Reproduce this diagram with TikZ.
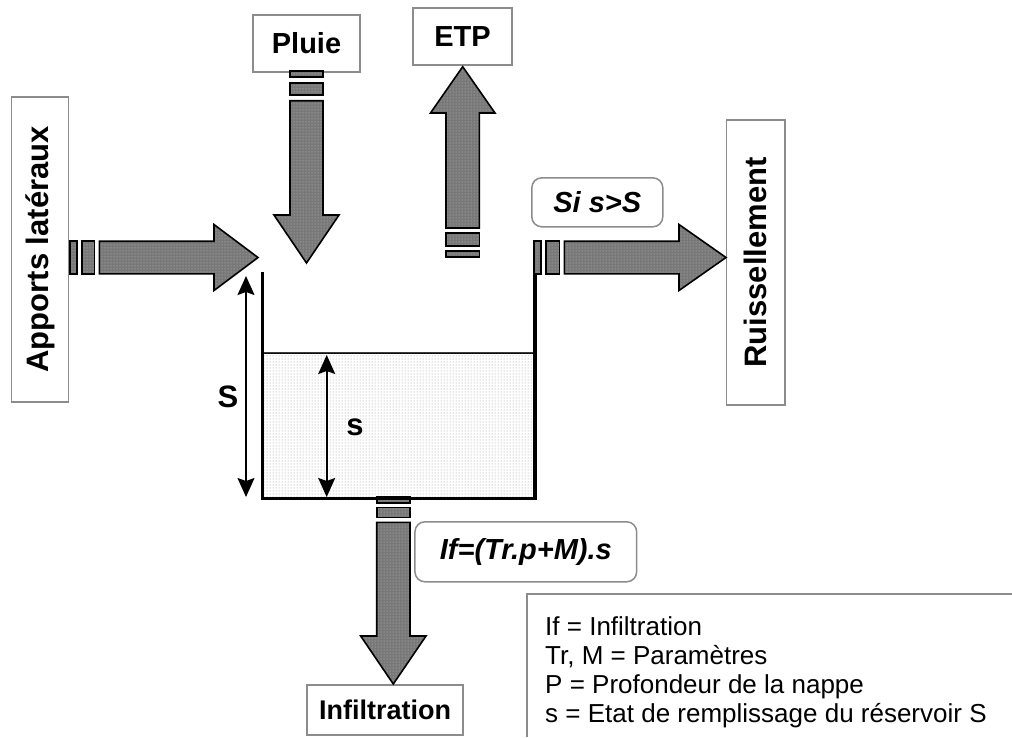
\documentclass[tikz,border=0pt]{standalone}
\usepackage{fontspec}
\setmainfont{Liberation Sans}
\usetikzlibrary{patterns,arrows.meta}
\begin{document}
\begin{tikzpicture}[x=1pt,y=-1pt,
 lbl/.style={font=\fontsize{29}{34}\selectfont\bfseries, inner sep=0pt},
 vlbl/.style={font=\fontsize{31}{36}\selectfont\bfseries, inner sep=0pt, rotate=90},
 ilbl/.style={font=\fontsize{29}{34}\selectfont\bfseries\itshape, inner sep=0pt},
 legtxt/.style={font=\fontsize{26}{29}\selectfont, inner sep=0pt, anchor=base west},
 box/.style={draw={rgb,255:red,140;green,140;blue,140}, line width=1.5pt, fill=white, inner sep=0pt},
 rbox/.style={box, rounded corners=10pt},
 blk/.style={draw=black, line width=1.6pt, line join=miter,
   preaction={fill={rgb,255:red,120;green,120;blue,120}},
   pattern=dots, pattern color={rgb,255:red,195;green,195;blue,195}},
 water/.style={fill=white, postaction={pattern=dots, pattern color={rgb,255:red,150;green,150;blue,150}}},
 dim/.style={line width=1.6pt, {Stealth[length=19pt,width=17pt,inset=3pt]}-{Stealth[length=19pt,width=17pt,inset=3pt]}},
 wall/.style={line width=3.2pt, line cap=rect}
]
\useasboundingbox (0,0) rectangle (1012,737);

% ---- boxes ----
\node[box, minimum width=56.6pt, minimum height=305pt] (app) at (40,249.3) {};
\node[vlbl] (apptxt) at (app.center) {Apports latéraux};
\node[box, minimum width=58.3pt, minimum height=285pt] (ruis) at (755.8,262.5) {};
\node[vlbl] (ruistxt) at (ruis.center) {Ruissellement};
\node[box, lbl, minimum width=107pt, minimum height=57pt] (pluie) at (306.5,43.5) {Pluie};
\node[box, lbl, minimum width=99pt, minimum height=57pt] (etp) at (462.5,36.5) {ETP};
\node[box, lbl, font=\fontsize{27}{32}\selectfont\bfseries, minimum width=156pt, minimum height=50pt] (inf) at (385,710) {Infiltration};
\node[rbox, ilbl, minimum width=131pt, minimum height=49pt] (si) at (597.3,202.3) {Si s>S};
\node[rbox, ilbl, minimum width=221.7pt, minimum height=60pt] (iff) at (525.8,551.8) {If=(Tr.p+M).s};

% ---- legend ----
\coordinate (lgA) at (527,737);
\coordinate (lgB) at (1012,594);
\draw[draw={rgb,255:red,140;green,140;blue,140}, line width=1.5pt] (lgA) |- (lgB);
\node[legtxt] (leg1) at (545,635) {If = Infiltration};
\node[legtxt] (leg2) at (545,664) {Tr, M = Paramètres};
\node[legtxt] (leg3) at (545,693) {P = Profondeur de la nappe};
\node[legtxt] (leg4) at (545,722) {s = Etat de remplissage du réservoir S};

% ---- reservoir ----
\draw[water] (262.3,352.7) rectangle (535,498.3);
\draw[line width=1.5pt, draw={rgb,255:red,60;green,60;blue,60}] (262.3,352.7) -- (535,352.7);
% bottom outflow arrow (first tail piece under the bottom)
\draw[blk] (376.7,497) rectangle (410,503);
\draw[wall] (262.3,274) -- (262.3,498.3) -- (535,498.3) -- (535,273);
\draw[blk] (376.7,507.3) rectangle (410,517.3);
\draw[blk] (376.7,522.3) -- (376.7,636) -- (360.7,636) -- (393.3,684) -- (426,636) -- (410,636) -- (410,522.3) -- cycle;

% dimension arrows
\coordinate (Stop) at (246,276);
\coordinate (Sbot) at (246,497);
\draw[dim] (Stop) -- (Sbot);
\coordinate (stop) at (326.7,355);
\coordinate (sbot) at (326.7,497);
\draw[dim] (stop) -- (sbot);
\node[lbl, font=\fontsize{31}{36}\selectfont\bfseries] (Slab) at (228,397) {S};
\node[lbl, font=\fontsize{31}{36}\selectfont\bfseries] (slab) at (355,427) {s};

% ---- lateral inflow arrow ----
\draw[blk] (70,241.2) rectangle (76.7,273.8);
\draw[blk] (81.7,241.2) rectangle (94.3,273.8);
\draw[blk] (99.3,241.2) -- (214,241.2) -- (214,224.5) -- (258,257.5) -- (214,290.5) -- (214,273.8) -- (99.3,273.8) -- cycle;

% ---- runoff arrow ----
\draw[blk] (534,241.2) rectangle (541,273.8);
\draw[blk] (546,241.2) rectangle (559.3,273.8);
\draw[blk] (564.3,241.2) -- (679,241.2) -- (679,224.5) -- (726,257.5) -- (679,290.5) -- (679,273.8) -- (564.3,273.8) -- cycle;

% ---- rain arrow ----
\draw[blk] (290,70.7) rectangle (323,77);
\draw[blk] (290,82.7) rectangle (323,95);
\draw[blk] (290,100.7) -- (290,215) -- (274,215) -- (306.5,263) -- (339,215) -- (323,215) -- (323,100.7) -- cycle;

% ---- ETP arrow ----
\draw[blk] (446,228) -- (446,113) -- (430.5,113) -- (462.7,66.7) -- (495,113) -- (479.4,113) -- (479.4,228) -- cycle;
\draw[blk] (446,233) rectangle (479.4,246);
\draw[blk] (446,251) rectangle (479.4,257);
\end{tikzpicture}
\end{document}
